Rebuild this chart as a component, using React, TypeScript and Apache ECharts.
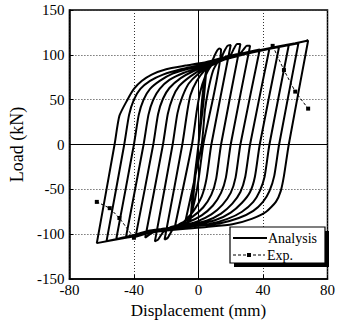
import { useEffect, useRef } from "react";
import * as echarts from "echarts";

const xRange = [-80, 80];
const xStep = 40;
const yRange = [-150, 150];
const yStep = 50;

// Analysis: hysteresis path
const INIT = [[0, 0], [3, 55], [5, 85], [3, 45], [0, 0], [-3, -55], [-5, -85], [-3, -45], [0, 0]];
const U0 = [[0, 0], [2, 45], [4, 75], [6, 88], [9, 95], [11, 103], [13, 107], [14, 106]];
const L1 = [[14, 106], [3, 0], [0, -40], [-2, -60], [-5, -80], [-9, -93]];
const U1 = [[-9, -93], [2, 0], [4, 38], [6, 60], [9, 82], [12, 92], [14, 96], [16, 104], [18, 110], [20, 111]];
const L2 = [[20, 111], [8, 0], [5, -38], [2, -58], [-3, -74], [-9, -86], [-15, -95]];
const U2 = [[-15, -95], [-4, 0], [-1, 38], [1, 58], [4, 75], [8, 88], [14, 96], [20, 100], [22, 107], [24, 112], [26, 112]];
const L3 = [[26, 112], [14, 0], [11, -38], [8, -56], [3, -70], [-4, -81], [-12, -89], [-16, -95], [-19, -104], [-21, -106]];
const U3 = [[-21, -106], [-10, 0], [-7, 36], [-5, 55], [-1, 71], [4, 83], [10, 92], [20, 99], [26, 102], [28, 106], [30, 110], [32, 110]];
const L4 = [[32, 110], [20, 0], [17, -37], [14, -54], [9, -68], [2, -79], [-7, -87], [-17, -92], [-22, -98], [-25, -106], [-27, -108]];
const U4 = [[-27, -108], [-16, 0], [-13, 35], [-10, 53], [-6, 68], [0, 79], [7, 87], [15, 94], [26, 101], [38, 106]];
const L5 = [[38, 106], [26, 0], [23, -37], [20, -54], [15, -67], [8, -78], [-1, -86], [-12, -91], [-25, -95], [-30, -100], [-33, -104]];
const U5 = [[-33, -104], [-22, 0], [-19, 34], [-16, 52], [-12, 65], [-5, 76], [3, 85], [12, 92], [25, 100], [44, 107]];
const L6 = [[44, 107], [32, 0], [29, -36], [26, -53], [21, -66], [14, -77], [5, -85], [-7, -90], [-22, -94], [-39, -103]];
const U6 = [[-39, -103], [-28, 0], [-25, 34], [-22, 51], [-18, 63], [-11, 74], [-3, 82], [8, 90], [22, 98], [36, 104], [50, 109]];
const L7 = [[50, 109], [38, 0], [35, -36], [32, -53], [27, -65], [20, -76], [11, -84], [-1, -89], [-18, -93], [-30, -96], [-45, -104]];
const U7 = [[-45, -104], [-34, 0], [-31, 33], [-28, 50], [-24, 62], [-18, 72], [-9, 80], [2, 87], [16, 96], [35, 104], [56, 111]];
const L8 = [[56, 111], [44, 0], [41, -36], [38, -52], [34, -64], [27, -75], [18, -83], [6, -89], [-10, -92], [-28, -96], [-51, -106]];
const U8 = [[-51, -106], [-40, 0], [-37, 33], [-34, 50], [-30, 62], [-24, 71], [-16, 79], [-5, 85], [8, 91], [25, 99], [45, 107], [62, 113]];
const L9 = [[62, 113], [50, 0], [47, -35], [44, -52], [40, -64], [34, -74], [25, -82], [13, -88], [-3, -91], [-25, -96], [-45, -103], [-57, -108]];
const U9 = [[-57, -108], [-46, 0], [-43, 33], [-40, 50], [-36, 62], [-30, 71], [-22, 78], [-11, 84], [2, 89], [20, 98], [45, 107], [68, 116]];
const L10 = [[68, 116], [56, 0], [53, -35], [51, -52], [48, -64], [42, -75], [33, -83], [21, -89], [5, -92], [-25, -97], [-45, -104], [-63, -110]];
const U10 = [[-63, -110], [-52, 0], [-49, 32], [-44, 50], [-40, 62], [-35, 71], [-29, 78], [-20, 84], [-8, 88], [5, 92], [20, 99], [40, 106], [60, 113], [68, 116]];

const analysisBranches = [INIT, U0, L1, U1, L2, U2, L3, U3, L4, U4, L5, U5, L6, U6, L7, U7, L8, U8, L9, U9, L10, U10];

// Experiment: only the visible tails
const expRight = [[46, 110], [53, 83], [60, 59], [68, 40]];
const expLeft = [[-40, -104], [-49, -82], [-55, -71], [-63, -64]];

const legendNames = ["Analysis", "Exp."];

const FONT = "'Liberation Serif', 'DejaVu Serif', serif";

export default function App() {
  const ref = useRef<HTMLDivElement>(null);
  useEffect(() => {
    if (!ref.current) return;
    const chart = echarts.init(ref.current, null, { renderer: "svg" });
    const analysis: number[][] = [];
    analysisBranches.forEach((b) => b.forEach((p) => analysis.push(p)));
    const expStyle = {
      type: "line",
      name: legendNames[1],
      symbol: "rect",
      symbolSize: 4,
      itemStyle: { color: "#000" },
      lineStyle: { color: "#000", width: 1, type: [3, 2] },
      z: 5,
    };
    const lx = 230;
    const ly = 227;
    const lw = 95;
    const lh = 36;
    const Z = 100;
    chart.setOption({
      animation: false,
      backgroundColor: "#fff",
      grid: {
        left: 62,
        right: 6,
        top: 10,
        bottom: 47,
        show: true,
        borderColor: "#000",
        borderWidth: 1.5,
        backgroundColor: "transparent",
      },
      graphic: [
        { type: "rect", z: Z, shape: { x: lx + 4, y: ly + 4, width: lw, height: lh }, style: { fill: "#000" } },
        {
          type: "rect",
          z: Z + 1,
          shape: { x: lx, y: ly, width: lw, height: lh },
          style: { fill: "#fff", stroke: "#000", lineWidth: 1.2 },
        },
        {
          type: "line",
          z: Z + 2,
          shape: { x1: lx + 3, y1: ly + 11, x2: lx + 37, y2: ly + 11 },
          style: { stroke: "#000", lineWidth: 2 },
        },
        {
          type: "text",
          z: Z + 2,
          x: lx + 38,
          y: ly + 11,
          style: {
            text: legendNames[0],
            font: `14px ${FONT}`,
            fill: "#000",
            verticalAlign: "middle",
            align: "left",
          },
        },
        {
          type: "line",
          z: Z + 2,
          shape: { x1: lx + 3, y1: ly + 28, x2: lx + 35, y2: ly + 28 },
          style: { stroke: "#000", lineWidth: 1, lineDash: [3, 2] },
        },
        { type: "rect", z: Z + 3, shape: { x: lx + 17, y: ly + 26, width: 4, height: 4 }, style: { fill: "#000" } },
        {
          type: "text",
          z: Z + 2,
          x: lx + 37,
          y: ly + 28,
          style: {
            text: legendNames[1],
            font: `14px ${FONT}`,
            fill: "#000",
            verticalAlign: "middle",
            align: "left",
          },
        },
      ],
      xAxis: {
        type: "value",
        min: xRange[0],
        max: xRange[1],
        interval: xStep,
        name: "Displacement (mm)",
        nameLocation: "middle",
        nameGap: 17,
        nameTextStyle: { fontFamily: FONT, fontSize: 17, color: "#000" },
        axisLine: { onZero: false, lineStyle: { color: "#000", width: 1.5 } },
        axisTick: { inside: true, length: 4, lineStyle: { color: "#000" } },
        axisLabel: { fontFamily: FONT, fontSize: 15, color: "#000", margin: 3 },
        splitLine: { show: true, lineStyle: { color: "#333", type: [1, 2], width: 1 } },
      },
      yAxis: {
        type: "value",
        min: yRange[0],
        max: yRange[1],
        interval: yStep,
        name: "Load (kN)",
        nameLocation: "middle",
        nameRotate: 90,
        nameGap: 39,
        nameTextStyle: { fontFamily: FONT, fontSize: 18, color: "#000" },
        axisLine: { onZero: false, lineStyle: { color: "#000", width: 1.5 } },
        axisTick: { inside: true, length: 4, lineStyle: { color: "#000" } },
        axisLabel: { fontFamily: FONT, fontSize: 15, color: "#000", margin: 5 },
        splitLine: { show: true, lineStyle: { color: "#333", type: [1, 2], width: 1 } },
      },
      series: [
        {
          type: "line",
          name: legendNames[0],
          data: analysis,
          symbol: "none",
          smooth: 0.2,
          lineStyle: { color: "#000", width: 2 },
          itemStyle: { color: "#000" },
          z: 3,
          markLine: {
            silent: true,
            symbol: ["none", "none"],
            label: { show: false },
            lineStyle: { color: "#000", type: "solid", width: 1 },
            data: [{ xAxis: 0 }, { yAxis: 0 }],
          },
        },
        { ...expStyle, data: expRight },
        { ...expStyle, data: expLeft },
      ],
    });
    return () => chart.dispose();
  }, []);
  return (
    <div
      ref={ref}
      style={{ position: "fixed", left: 0, top: 0, width: 338, height: 326 }}
    />
  );
}
